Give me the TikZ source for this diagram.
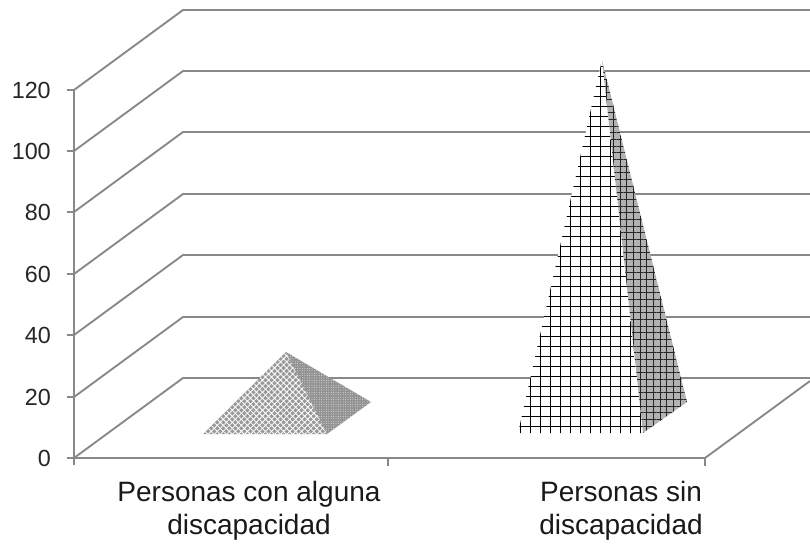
\documentclass[tikz,border=0pt]{standalone}
\usepackage{fontspec}
\setmainfont{Liberation Sans}
\usetikzlibrary{patterns.meta}
\definecolor{gridgray}{RGB}{136,136,136}

\begin{document}
\begin{tikzpicture}[x=0.75pt,y=-0.75pt,gridline/.style={draw=gridgray,line width=1.4pt},
	ticklab/.style={anchor=east,inner sep=0pt,text=black!85,font=\fontsize{17.5}{17.5}\selectfont},
	catlab/.style={anchor=north,inner sep=0pt,align=center,text=black!90,font=\fontsize{21}{25}\selectfont}]
		\useasboundingbox (0,0) rectangle (810,546);
		% walls and floor
		\draw[gridline] (74,458)--(183,378)--(810,378);
		\draw[gridline] (74,397)--(183,317)--(810,317);
		\draw[gridline] (74,335)--(183,255)--(810,255);
		\draw[gridline] (74,274)--(183,194)--(810,194);
		\draw[gridline] (74,212)--(183,132)--(810,132);
		\draw[gridline] (74,151)--(183,71)--(810,71);
		\draw[gridline] (74,90)--(183,10)--(810,10);
		\draw[gridline] (705,458)--(810,381);
		% axes
		\draw[gridline] (74,90)--(74,465);
		\draw[gridline] (74,458)--(705,458);
		\draw[gridline] (388,458)--(388,466);
		\draw[gridline] (705,458)--(705,466);
		\draw[gridline] (67,458)--(74,458);
		\draw[gridline] (67,397)--(74,397);
		\draw[gridline] (67,335)--(74,335);
		\draw[gridline] (67,274)--(74,274);
		\draw[gridline] (67,212)--(74,212);
		\draw[gridline] (67,151)--(74,151);
		\draw[gridline] (67,90)--(74,90);
		\node[ticklab] (l0) at (51,458) {0};
		\node[ticklab] (l1) at (51,397) {20};
		\node[ticklab] (l2) at (51,335) {40};
		\node[ticklab] (l3) at (51,274) {60};
		\node[ticklab] (l4) at (51,212) {80};
		\node[ticklab] (l5) at (51,151) {100};
		\node[ticklab] (l6) at (51,90) {120};
		% first pyramid
		\fill[gray!80] (203,434)--(327,434)--(286,352)--cycle;
		\fill[pattern={Hatch[angle=45,distance=3.2pt,line width=0.6pt]},pattern color=white] (203,434)--(327,434)--(286,352)--cycle;
		\fill[gray!85] (327,434)--(371,402)--(286,352)--cycle;
		\fill[pattern={Dots[distance=1.8pt,radius=0.3pt]},pattern color=white] (327,434)--(371,402)--(286,352)--cycle;
		% second pyramid
		\fill[white] (518,433)--(643,433)--(602,60)--cycle;
		\fill[pattern={Hatch[angle=0,distance=7.5pt,line width=0.65pt]},pattern color=black] (518,433)--(643,433)--(602,60)--cycle;
		\fill[gray!60] (643,433)--(687,402)--(602,60)--cycle;
		\fill[pattern={Hatch[angle=0,distance=5pt,line width=0.5pt]},pattern color=black!85] (643,433)--(687,402)--(602,60)--cycle;
		\node[catlab] (c1) at (249,481) {Personas con alguna\\discapacidad};
		\node[catlab] (c2) at (621,481) {Personas sin\\discapacidad};
	\end{tikzpicture}
\end{document}
